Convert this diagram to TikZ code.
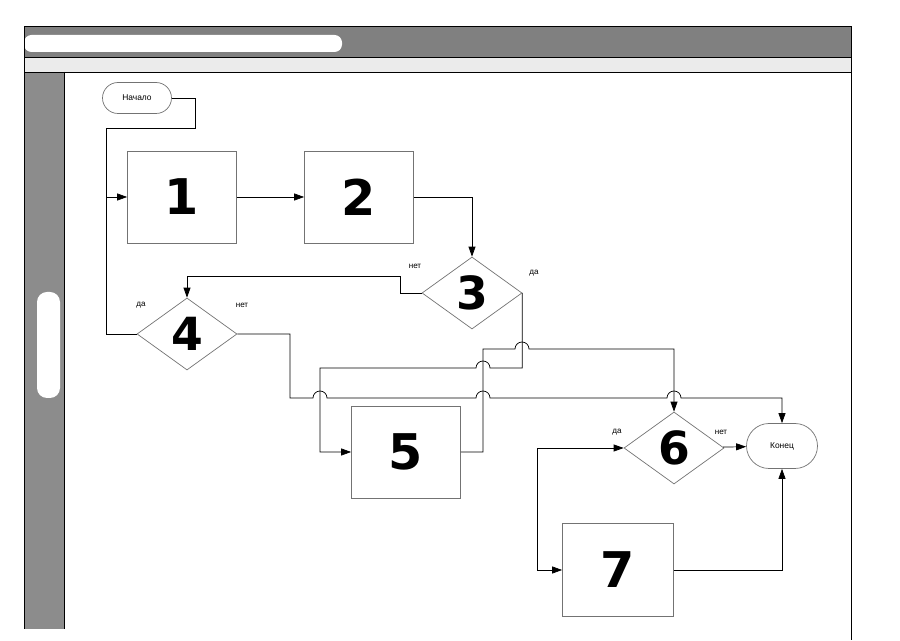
\documentclass[tikz,border=0pt]{standalone}
\usepackage{fontspec}
\setmainfont{Liberation Sans}
\newfontfamily\digitfont{DejaVu Sans}
\usetikzlibrary{shapes.geometric,shapes.misc,arrows.meta}

\begin{document}
\begin{tikzpicture}[x=0.02cm,y=-0.02cm]

    % Define some common styles
    \tikzset{
        block/.style={draw=black!55, thin, minimum width=2.18cm, minimum height=1.84cm, inner sep=0pt, font=\digitfont\bfseries\fontsize{28}{28}\selectfont},
        decision/.style={diamond, draw=black!55, thin, minimum width=2cm, minimum height=1.44cm, inner sep=0pt, font=\digitfont\bfseries\fontsize{26}{26}\selectfont},
        terminal/.style={rounded rectangle, draw=black!55, thin, inner sep=0pt, font=\fontsize{4.8}{5}\selectfont},
        flow/.style={thin, -{Triangle[length=0.2cm,width=0.14cm]}},
        line/.style={thin},
        lbl/.style={inner sep=0pt, font=\fontsize{4.6}{5}\selectfont}
    }

    \useasboundingbox (0,0) rectangle (900,641);

    % Scanned page frame: header bands and left side bar
    \fill[black!50] (24,26) rectangle (851,57);
    \fill[white, rounded corners=0.15cm] (24,35) rectangle (342,52);
    \fill[black!8] (24,57) rectangle (851,72);
    \fill[black!45] (24,72) rectangle (64,629);
    \fill[white, rounded corners=0.2cm] (37,292) rectangle (60,398);
    \draw (24,629) -- (24,26) -- (851,26) -- (851,640);
    \draw (24,57) -- (851,57);
    \draw (24,72) -- (851,72);
    \draw (64,72) -- (64,629);

    % Terminals
    \node[terminal, minimum width=1.38cm, minimum height=0.62cm] (start) at (137,98) {Начало};
    \node[terminal, minimum width=1.42cm, minimum height=0.9cm] (end) at (782,446) {Конец};

    % Process blocks
    \node[block] (b1) at (182,197) {1};
    \node[block] (b2) at (359,197) {2};
    \node[block] (b5) at (406,452) {5};
    \node[block, minimum width=2.22cm, minimum height=1.86cm] (b7) at (618,570) {7};

    % Decisions
    \node[decision] (d3) at (472,293) {3};
    \node[decision] (d4) at (187,334) {4};
    \node[decision] (d6) at (674,448) {6};

    % Branch labels
    \node[lbl] (d3no) at (415,266) {нет};
    \node[lbl] (d3yes) at (534,273) {да};
    \node[lbl] (d4yes) at (141,305) {да};
    \node[lbl] (d4no) at (242,305) {нет};
    \node[lbl] (d6yes) at (617,432) {да};
    \node[lbl] (d6no) at (721,432) {нет};

    % Flow lines
    \draw[flow] (start.east) -- (195,98) -- (195,128) -- (106,128) |- (b1.west);
    \draw[line] (d4.west) -- (106,334) -- (106,197);
    \draw[flow] (b1) -- (b2);
    \draw[flow] (b2.east) -| (d3.north);
    \draw[flow] (d3.west) -- (400,293) -- (400,276) -| (d4.north);

    % Lines with hops over crossings
    \draw[flow] (d3.east) |- (490,368)
        arc[start angle=0, end angle=180, radius=0.14cm] -- (320,368) |- (b5.west);
    \draw[flow] (b5.east) -- (483,452) -- (483,349) -- (515,349)
        arc[start angle=180, end angle=0, radius=0.14cm] -| (d6.north);
    \draw[flow] (d4.east) -- (290,334) -- (290,398) -- (313,398)
        arc[start angle=180, end angle=0, radius=0.14cm] -- (476,398)
        arc[start angle=180, end angle=0, radius=0.14cm] -- (667,398)
        arc[start angle=180, end angle=0, radius=0.14cm] -| (end.north);

    \draw[flow] (d6) -- (end);
    \draw[thin, {Triangle[length=0.2cm,width=0.14cm]}-{Triangle[length=0.2cm,width=0.14cm]}] (d6.west) -- (537,448) |- (b7.west);
    \draw[flow] (b7.east) -| (end.south);

\end{tikzpicture}
\end{document}
